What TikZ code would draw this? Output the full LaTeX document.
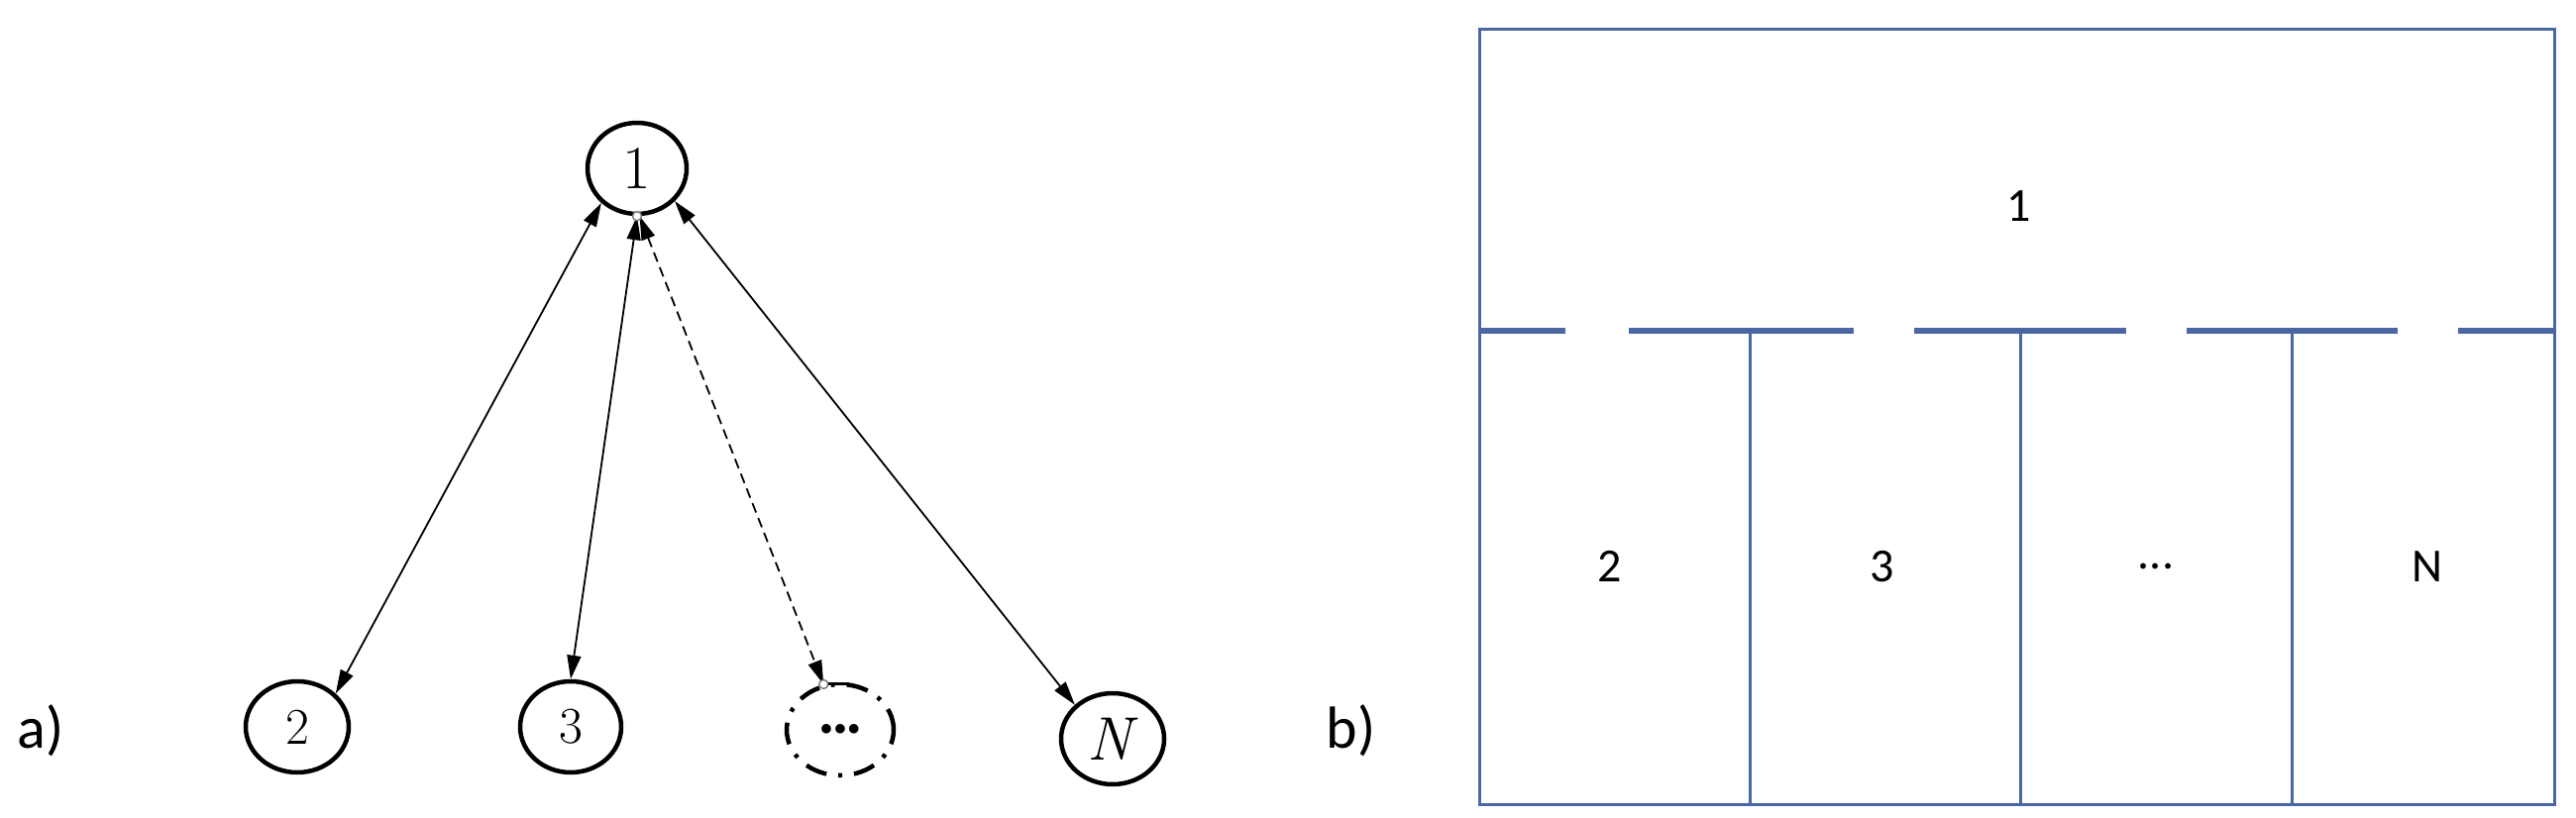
\documentclass[tikz,border=0pt]{standalone}
\usepackage{fontspec}
\newfontfamily\carl{Carlito}
\usetikzlibrary{shapes.geometric,arrows.meta}
\definecolor{bl}{HTML}{4A67A3}
\begin{document}
\begin{tikzpicture}[x=1pt,y=-1pt,
  nd/.style={ellipse,draw,line width=4.5pt,minimum width=#1,minimum height=92pt,inner sep=0pt},
  ar/.style={line width=1.8pt,{Triangle[length=24pt,width=14pt]}-{Triangle[length=24pt,width=14pt]}},
  oc/.style={circle,draw=gray,fill=white,line width=1.5pt,minimum size=9pt,inner sep=0pt},
  lab/.style={font=\carl\fontsize{60}{60}\selectfont},
  bt/.style={font=\carl\fontsize{48}{48}\selectfont},
  bx/.style={draw=bl,line width=3pt}]
\useasboundingbox (0,0) rectangle (2600,826);
% panel a
\node[nd=100pt,font=\fontsize{62}{62}\selectfont] (n1) at (643,170) {1};
\node[nd=104pt,font=\fontsize{52}{52}\selectfont] (n2) at (300,734) {2};
\node[nd=102pt,font=\fontsize{52}{52}\selectfont] (n3) at (576,734) {3};
\node[nd=108pt,dash pattern=on 22pt off 12pt on 4pt off 12pt,font=\fontsize{40}{40}\selectfont\bfseries] (nd) at (848,737) {$\bullet\!\bullet\!\bullet$};
\node[nd=104pt,font=\fontsize{62}{62}\selectfont] (nN) at (1123,746) {\textit{N}};
\node[lab,anchor=west] (la) at (14,738) {a)};
\draw[ar] (n1.224) -- (n2.41);
\draw[ar] (n1.270) -- (n3.90);
\draw[ar,dash pattern=on 10pt off 6pt] (n1.273) -- (nd.110);
\draw[ar] (n1.319) -- (nN.138);
\node[oc] (c1) at (n1.270) {};
\node[oc] (c2) at (nd.110) {};
\coordinate (tk) at ([xshift=26pt]c2.center);
\draw[line width=3pt] (c2.east) -- (tk);
% panel b
\node[lab,anchor=west] (lb) at (1335,738) {b)};
\draw[bx] (1493,30) rectangle (2578,812);
\draw[draw=bl,line width=6pt] (1493,334) -- (1580,334) (1644,334) -- (1871,334) (1932,334) -- (2146,334) (2207,334) -- (2420,334) (2481,334) -- (2578,334);
\draw[bx] (1766,334) -- (1766,812) (2039,334) -- (2039,812) (2313,334) -- (2313,812);
\node[bt] (b1) at (2038,208) {1};
\node[bt] (b2) at (1625,572) {2};
\node[bt] (b3) at (1900,572) {3};
\node[bt] (b4) at (2176,572) {...};
\node[bt] (b5) at (2450,572) {N};
\end{tikzpicture}
\end{document}
